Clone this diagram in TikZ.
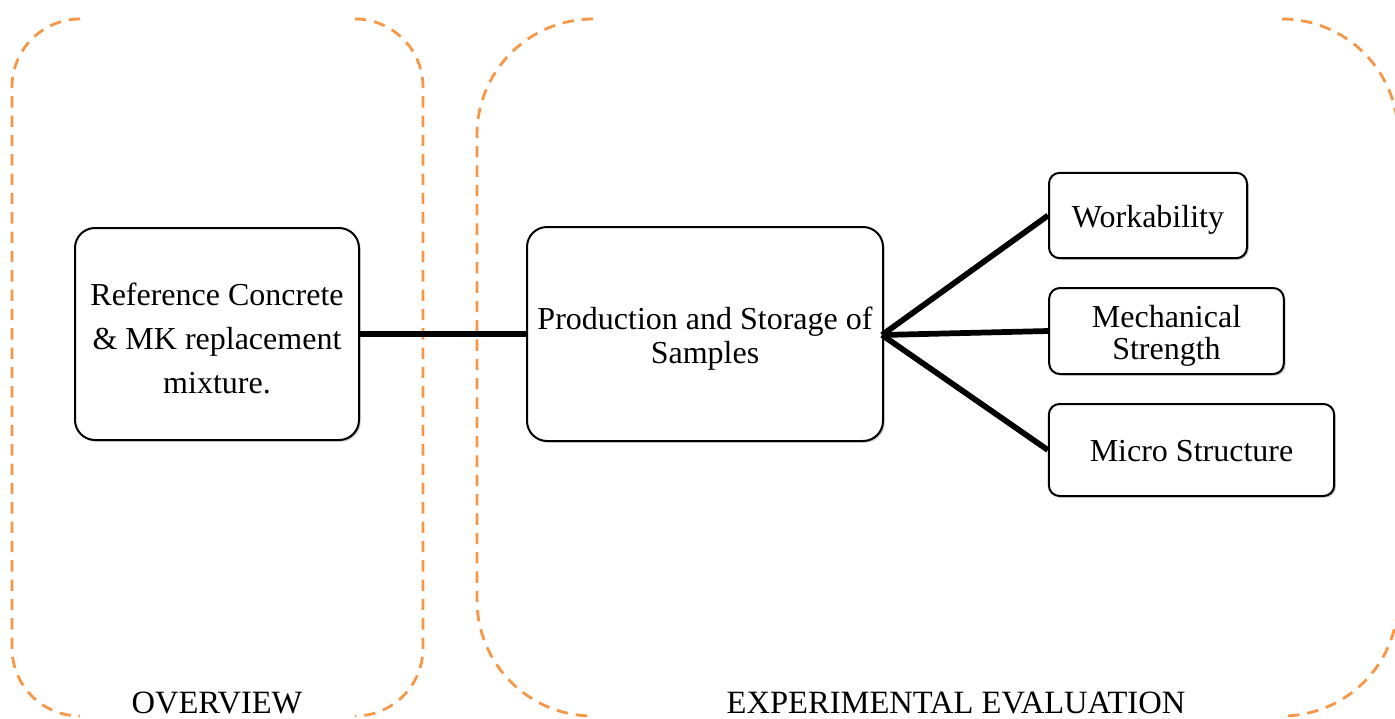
\documentclass[tikz,border=0pt]{standalone}
\usepackage{fontspec}
\setmainfont{Liberation Serif}
\usetikzlibrary{shadows}
\definecolor{frameorange}{HTML}{F79646}
% box text, set a little below the geometric centre of its box
\newcommand\boxtext[2]{\raisebox{#1}[\height][\depth]{\begin{tabular}{@{}c@{}}#2\end{tabular}}}
\tikzset{
  frame/.style={draw=frameorange, line width=2.1pt, dash pattern=on 8.5pt off 6pt},
  stagebox/.style={draw=black, line width=1.5pt, fill=white, rounded corners=15pt,
    inner sep=0pt, align=center,
    drop shadow={shadow xshift=1.3pt, shadow yshift=-1.3pt, opacity=0.22, fill=black}},
  itembox/.style={stagebox, rounded corners=8pt},
  link/.style={draw=black, line width=4.3pt},
  caption/.style={anchor=base, inner sep=0pt, font=\fontsize{24.4}{28}\selectfont}
}
\begin{document}
\begin{tikzpicture}[x=0.75pt, y=-0.75pt]
\useasboundingbox (0,0) rectangle (1395,718);

% dashed group frames (only the rounded sides show)
\draw[frame, rounded corners=51pt] (80,19) -- (12,19) -- (12,716) -- (80,716);
\draw[frame, rounded corners=51pt] (355,19) -- (423,19) -- (423,716) -- (355,716);
\draw[frame, rounded corners=87pt] (593,19) -- (477,19) -- (477,716) -- (593,716);
\draw[frame, rounded corners=87pt] (1282,19) -- (1398,19) -- (1398,716) -- (1282,716);

% stage boxes
\node[stagebox, minimum width=213pt, minimum height=159pt,
      font=\fontsize{24}{33}\selectfont] (ref) at (217,334)
  {\boxtext{-5pt}{Reference Concrete\\ \& MK replacement\\ mixture.}};
\node[stagebox, minimum width=267pt, minimum height=160.5pt,
      font=\fontsize{24}{25.5}\selectfont] (prod) at (705,334)
  {\boxtext{-4.5pt}{Production and Storage of\\ Samples}};

% evaluation boxes
\node[itembox, minimum width=148.5pt, minimum height=64pt,
      font=\fontsize{24}{24}\selectfont] (work) at (1148,215.5)
  {\boxtext{-4.5pt}{Workability}};
\node[itembox, minimum width=176pt, minimum height=64.5pt,
      font=\fontsize{24}{24}\selectfont] (mech) at (1166.5,331)
  {\boxtext{-4.5pt}{Mechanical\\ Strength}};
\node[itembox, minimum width=214pt, minimum height=69pt,
      font=\fontsize{24}{24}\selectfont] (micro) at (1191.5,450)
  {\boxtext{-4pt}{Micro Structure}};

% connectors
\coordinate (hub) at (882,335);
\draw[link] (ref.east) -- (prod.west);
\draw[link] (hub) -- (work.west);
\draw[link] (hub) -- (mech.west);
\draw[link] (hub) -- (micro.west);

% group captions
\node[caption] (ovl) at (217,713) {OVERVIEW};
\node[caption] (evl) at (956,713) {EXPERIMENTAL EVALUATION};
\end{tikzpicture}
\end{document}
